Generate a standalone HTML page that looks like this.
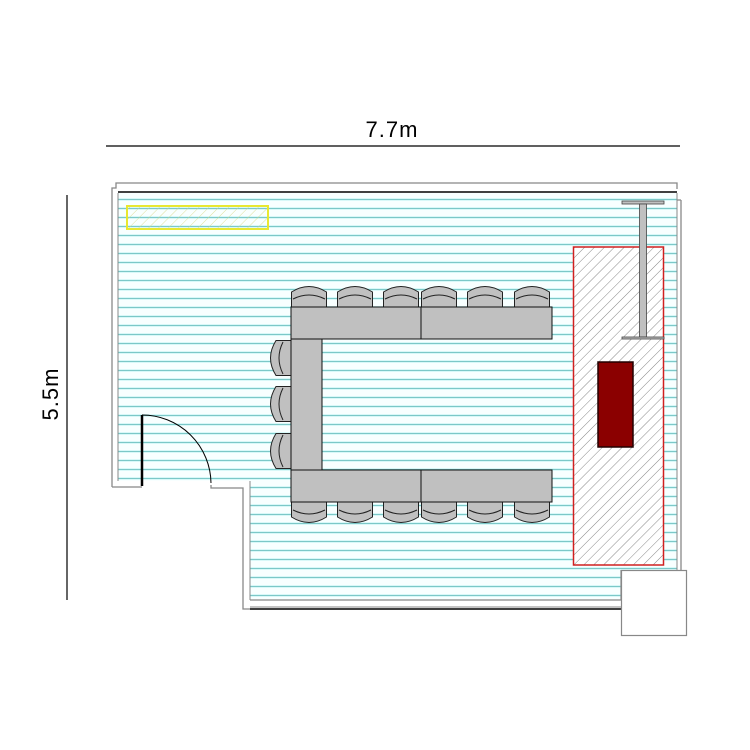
<!DOCTYPE html>
<html><head><meta charset="utf-8"><style>
html,body{margin:0;padding:0;background:#fff;}
svg{display:block;}
text{font-family:"Liberation Sans",sans-serif;}
</style></head><body>
<svg width="750" height="750" viewBox="0 0 750 750" xmlns="http://www.w3.org/2000/svg">
<defs>
<pattern id="stripes" patternUnits="userSpaceOnUse" width="10" height="9" y="195">
<rect width="10" height="9" fill="#f8ffff"/>
<rect y="3" width="10" height="3" fill="#d8f8f8"/>
<rect y="4" width="10" height="1" fill="#7cc8c8"/>
</pattern>
<pattern id="hatchR" patternUnits="userSpaceOnUse" width="7" height="7" patternTransform="rotate(45)">
<line x1="0" y1="0" x2="0" y2="7" stroke="#555" stroke-width="0.7"/>
</pattern>
<pattern id="hatchY" patternUnits="userSpaceOnUse" width="7" height="7" patternTransform="rotate(45)">
<line x1="0" y1="0" x2="0" y2="7" stroke="#d8d880" stroke-width="0.8"/>
</pattern>
<g id="chair">
<path d="M0.5 21 V6 Q18 -5 35.5 6 V21 Z" fill="#c0c0c0" stroke="#222" stroke-width="1"/>
<path d="M2 13 Q18 5 34 13" fill="none" stroke="#222" stroke-width="1"/>
<line x1="0.5" y1="21" x2="35.5" y2="21" stroke="#222"/>
</g>
</defs>

<line x1="106" y1="146" x2="680" y2="146" stroke="#000" stroke-width="1.2"/>
<text x="392" y="137" font-size="22" text-anchor="middle" letter-spacing="1">7.7m</text>
<line x1="67" y1="195" x2="67" y2="600" stroke="#000" stroke-width="1.2"/>
<text x="0" y="0" font-size="22" text-anchor="middle" letter-spacing="1" transform="translate(58,394) rotate(-90)">5.5m</text>

<path d="M118 193 H677 V600 H250 V481 H118 Z" fill="url(#stripes)"/>
<path d="M250 600 H621 V570" fill="none" stroke="#888" stroke-width="1.2"/>
<path d="M118 481 V193 M250 481 V600 M677 193 V570" fill="none" stroke="#888" stroke-width="1"/>

<path d="M112 487 V188 H116 V183 H677 V189" fill="none" stroke="#888" stroke-width="1.3"/>
<line x1="118" y1="192" x2="677" y2="192" stroke="#000" stroke-width="1.5"/>
<path d="M681 200 H677 M681 200 V570" fill="none" stroke="#888" stroke-width="1.3"/>
<path d="M112 487 H142" stroke="#888" stroke-width="1.3"/>
<path d="M211 485 V488 H243 V609 H250" fill="none" stroke="#888" stroke-width="1.3"/>
<line x1="250" y1="609" x2="621" y2="609" stroke="#000" stroke-width="1.5"/>
<line x1="250" y1="607" x2="621" y2="607" stroke="#888" stroke-width="1"/>
<rect x="621.5" y="570.5" width="65" height="65" fill="#fff" stroke="#888" stroke-width="1.2"/>

<line x1="142" y1="415" x2="142" y2="486" stroke="#000" stroke-width="2.5"/>
<path d="M142 415 A69 69 0 0 1 211 483" fill="none" stroke="#000" stroke-width="1"/>

<rect x="127" y="206" width="141" height="23" fill="url(#hatchY)" stroke="#e8e830" stroke-width="2"/>

<rect x="573.5" y="247" width="90" height="318" fill="#fff"/>
<rect x="573.5" y="247" width="90" height="318" fill="url(#hatchR)" stroke="#d02020" stroke-width="1.5"/>
<rect x="598" y="362" width="35" height="85" fill="#8b0000" stroke="#200" stroke-width="1.5"/>
<rect x="622" y="201" width="42" height="3" fill="#c0c0c0" stroke="#444" stroke-width="0.8"/>
<rect x="639.5" y="204" width="7" height="133" fill="#c0c0c0" stroke="#444" stroke-width="0.8"/>
<rect x="622" y="337" width="42" height="2" fill="#c0c0c0" stroke="#444" stroke-width="0.8"/>

<use href="#chair" x="291" y="286"/>
<use href="#chair" x="337" y="286"/>
<use href="#chair" x="383" y="286"/>
<use href="#chair" x="421" y="286"/>
<use href="#chair" x="467" y="286"/>
<use href="#chair" x="514" y="286"/>
<use href="#chair" transform="translate(291,523) scale(1,-1)"/>
<use href="#chair" transform="translate(337,523) scale(1,-1)"/>
<use href="#chair" transform="translate(383,523) scale(1,-1)"/>
<use href="#chair" transform="translate(421,523) scale(1,-1)"/>
<use href="#chair" transform="translate(467,523) scale(1,-1)"/>
<use href="#chair" transform="translate(514,523) scale(1,-1)"/>
<use href="#chair" transform="translate(270,376) rotate(-90)"/>
<use href="#chair" transform="translate(270,422) rotate(-90)"/>
<use href="#chair" transform="translate(270,469) rotate(-90)"/>

<g fill="#c0c0c0" stroke="#111" stroke-width="1">
<rect x="291" y="307" width="130" height="32"/>
<rect x="421" y="307" width="131" height="32"/>
<rect x="291" y="339" width="31" height="131"/>
<rect x="291" y="470" width="130" height="32"/>
<rect x="421" y="470" width="131" height="32"/>
</g>
</svg>
</body></html>
